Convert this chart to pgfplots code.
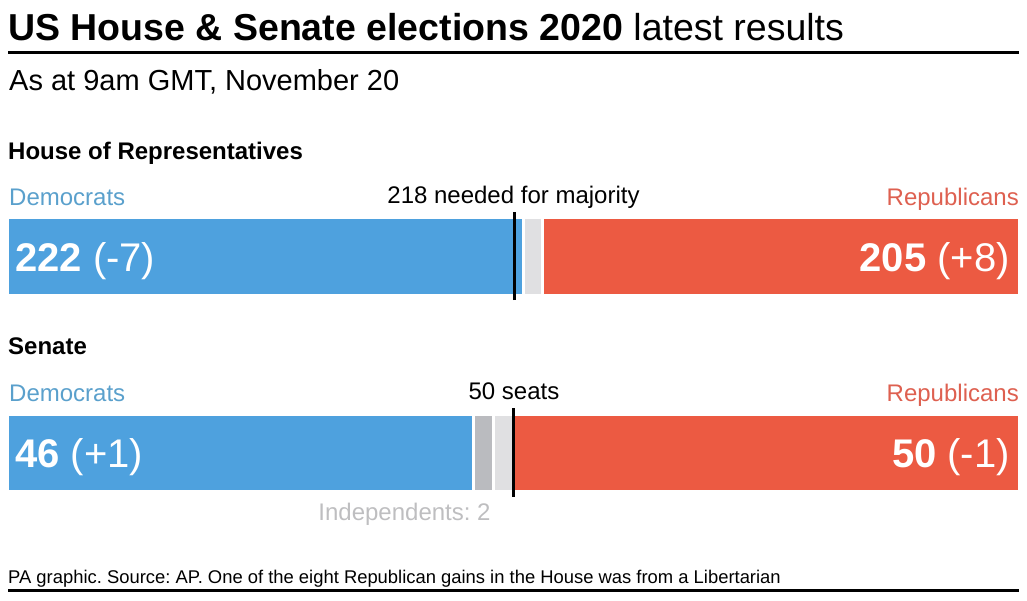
\documentclass[border=0pt]{standalone}
\usepackage{pgfplots}
\pgfplotsset{compat=1.18}
\usepackage{fontspec}
\setmainfont{Liberation Sans}
\definecolor{dem}{RGB}{78,161,222}
\definecolor{rep}{RGB}{236,90,66}
\definecolor{undec}{RGB}{224,224,226}
\definecolor{indep}{RGB}{186,187,191}
\definecolor{demlab}{RGB}{90,160,204}
\definecolor{replab}{RGB}{222,96,80}
\definecolor{indlab}{RGB}{190,190,192}
\newcommand{\fs}[1]{\fontsize{#1}{#1}\selectfont}
\frenchspacing
\begin{document}
\begin{tikzpicture}[x=1pt,y=1pt]
\path[use as bounding box] (0pt,0pt) rectangle (1027pt,-600pt);
\pgfplotsset{baseax/.style={scale only axis, hide axis, width=1012pt,
  xmin=0, ymin=-0.5, ymax=0.5, clip=false, ytick=\empty, xtick=\empty, anchor=south west}}
% House bars
\begin{axis}[baseax, xbar stacked, at={(7.5pt,-295.5pt)}, height=78pt, bar width=78pt, xmax=435]
\addplot[fill=dem, draw=white, line width=3pt] coordinates {(222,0)};
\addplot[fill=undec, draw=white, line width=3pt] coordinates {(8,0)};
\addplot[fill=rep, draw=white, line width=3pt] coordinates {(205,0)};
\end{axis}
% House majority line
\begin{axis}[baseax, at={(7.5pt,-295.5pt)}, height=78pt, xmax=435]
\addplot[black, line width=3pt, no marks] coordinates {(218,-0.558) (218,0.57)};
\end{axis}
% Senate bars
\begin{axis}[baseax, xbar stacked, at={(7.5pt,-491.5pt)}, height=77pt, bar width=77pt, xmax=100]
\addplot[fill=dem, draw=white, line width=3pt] coordinates {(46,0)};
\addplot[fill=indep, draw=white, line width=3pt] coordinates {(2,0)};
\addplot[fill=undec, draw=white, line width=3pt] coordinates {(2,0)};
\addplot[fill=rep, draw=white, line width=3pt] coordinates {(50,0)};
\end{axis}
% Senate majority line
\begin{axis}[baseax, at={(7.5pt,-491.5pt)}, height=77pt, xmax=100]
\addplot[black, line width=3pt, no marks] coordinates {(50,-0.571) (50,0.584)};
\end{axis}
% Titles
\node[anchor=base west, inner sep=0pt] at (8,-40) {\fs{37.5}\textbf{US House \& Senate elections 2020} latest results};
\draw[line width=3pt] (8,-52.5) -- (1019,-52.5);
\node[anchor=base west, inner sep=0pt] at (9,-90) {\fs{29}As at 9am GMT, November 20};
\node[anchor=base west, inner sep=0pt] at (8,-159) {\fs{24}\textbf{House of Representatives}};
\node[anchor=base west, inner sep=0pt, text=demlab] at (9,-205) {\fs{24}Democrats};
\node[anchor=base east, inner sep=0pt, text=replab] at (1019,-205) {\fs{24}Republicans};
\node[anchor=base, inner sep=0pt] at (513.5,-203) {\fs{24}218 needed for majority};
\node[anchor=base west, inner sep=0pt, text=white] at (15,-271) {\fs{40}\textbf{222} (-7)};
\node[anchor=base east, inner sep=0pt, text=white] at (1010,-271) {\fs{40}\textbf{205} (+8)};
\node[anchor=base west, inner sep=0pt] at (8,-354) {\fs{24}\textbf{Senate}};
\node[anchor=base west, inner sep=0pt, text=demlab] at (9,-401) {\fs{24}Democrats};
\node[anchor=base east, inner sep=0pt, text=replab] at (1019,-401) {\fs{24}Republicans};
\node[anchor=base, inner sep=0pt] at (514,-399) {\fs{24}50 seats};
\node[anchor=base west, inner sep=0pt, text=white] at (15,-467) {\fs{40}\textbf{46} (+1)};
\node[anchor=base east, inner sep=0pt, text=white] at (1010,-467) {\fs{40}\textbf{50} (-1)};
\node[anchor=base, inner sep=0pt, text=indlab] at (404.5,-520) {\fs{24}Independents: 2};
\node[anchor=base west, inner sep=0pt] at (8,-583) {\fs{18.4}PA graphic. Source: AP. One of the eight Republican gains in the House was from a Libertarian};
\draw[line width=2.5pt] (8,-590.5) -- (1019,-590.5);
\end{tikzpicture}
\end{document}
